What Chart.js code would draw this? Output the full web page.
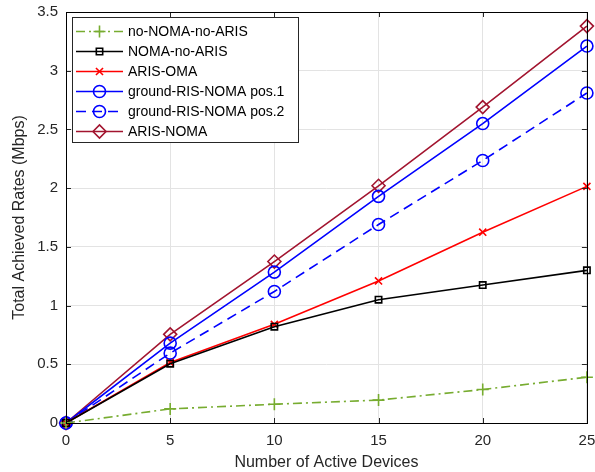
<!DOCTYPE html>
<html>
<head>
<meta charset="utf-8">
<script src="https://cdn.jsdelivr.net/npm/chart.js@4"></script>
<style>
  html, body { margin: 0; padding: 0; background: #fff; }
  #wrap { width: 595px; height: 472px; }
</style>
</head>
<body>
<div id="wrap"><canvas id="chart" width="595" height="472"></canvas></div>
<script>
// valores
const dispositivos = [0, 5, 10, 15, 20, 25];
const noNomaNoAris = [0, 0.12, 0.16, 0.195, 0.285, 0.39];
const nomaNoAris = [0, 0.505, 0.82, 1.05, 1.175, 1.30];
const arisOma = [0, 0.515, 0.84, 1.21, 1.625, 2.015];
const groundPos1 = [0, 0.68, 1.285, 1.93, 2.55, 3.21];
const groundPos2 = [0, 0.595, 1.12, 1.69, 2.235, 2.81];
const arisNoma = [0, 0.755, 1.375, 2.02, 2.69, 3.38];
const ticksX = [0, 5, 10, 15, 20, 25];
const ticksY = [0, 0.5, 1, 1.5, 2, 2.5, 3, 3.5];

const fuente = '"Liberation Sans", Arial, Helvetica, sans-serif';
const colorTexto = '#262626';

function serie(label, valores, color, estilo, extra) {
    return Object.assign({
        label: label,
        data: dispositivos.map((x, i) => ({ x: x, y: valores[i] })),
        borderColor: color,
        backgroundColor: 'transparent',
        pointBorderColor: color,
        pointBackgroundColor: 'transparent',
        borderWidth: 1.6,
        pointBorderWidth: 1.6,
        pointStyle: estilo,
        pointRadius: 5.5,
        pointHoverRadius: 5.5,
        tension: 0,
        fill: false,
        clip: false
    }, extra || {});
}

const datasets = [
    serie('no-NOMA-no-ARIS', noNomaNoAris, '#77ac30', 'cross', { borderDash: [9, 4, 2, 4], pointRadius: 6 }),
    serie('NOMA-no-ARIS', nomaNoAris, '#000000', 'rect', { pointRadius: 4.5 }),
    serie('ARIS-OMA', arisOma, '#ff0000', 'crossRot', { pointRadius: 5 }),
    serie('ground-RIS-NOMA pos.1', groundPos1, '#0000ff', 'circle', { pointRadius: 6 }),
    serie('ground-RIS-NOMA pos.2', groundPos2, '#0000ff', 'circle', { pointRadius: 6, borderDash: [10, 6] }),
    serie('ARIS-NOMA', arisNoma, '#a2142f', 'rectRot', { pointRadius: 6.5 })
];

// Caja, marcas interiores y leyenda estilo MATLAB
const cajaPlugin = {
    id: 'caja',
    afterDatasetsDraw(chart) {
        const ctx = chart.ctx;
        const a = chart.chartArea;
        const sx = chart.scales.x, sy = chart.scales.y;
        ctx.save();
        ctx.strokeStyle = colorTexto;
        ctx.lineWidth = 1;
        ctx.beginPath();
        ticksX.forEach(v => {
            const px = Math.round(sx.getPixelForValue(v)) + 0.5;
            ctx.moveTo(px, a.bottom); ctx.lineTo(px, a.bottom - 5);
            ctx.moveTo(px, a.top); ctx.lineTo(px, a.top + 5);
        });
        ticksY.forEach(v => {
            const py = Math.round(sy.getPixelForValue(v)) + 0.5;
            ctx.moveTo(a.left, py); ctx.lineTo(a.left + 5, py);
            ctx.moveTo(a.right, py); ctx.lineTo(a.right - 5, py);
        });
        ctx.stroke();
        ctx.strokeStyle = '#000';
        ctx.strokeRect(Math.round(a.left) + 0.5, Math.round(a.top) + 0.5,
            Math.round(a.right - a.left), Math.round(a.bottom - a.top));
        ctx.restore();
    },
    afterDraw(chart) {
        const ctx = chart.ctx;
        const bx = 72, by = 17, bw = 226, bh = 125;
        ctx.save();
        ctx.fillStyle = '#fff';
        ctx.fillRect(bx, by, bw, bh);
        ctx.strokeStyle = '#262626';
        ctx.lineWidth = 1;
        ctx.strokeRect(bx + 0.5, by + 0.5, bw, bh);
        ctx.font = '14px ' + fuente;
        ctx.textBaseline = 'middle';
        chart.data.datasets.forEach((d, i) => {
            const y = by + 14.5 + i * 20;
            ctx.strokeStyle = d.borderColor;
            ctx.lineWidth = d.borderWidth;
            ctx.setLineDash(d.borderDash || []);
            ctx.beginPath();
            ctx.moveTo(76, y); ctx.lineTo(123, y);
            ctx.stroke();
            ctx.setLineDash([]);
            ctx.lineWidth = d.pointBorderWidth;
            ctx.fillStyle = 'transparent';
            Chart.helpers.drawPoint(ctx, {
                pointStyle: d.pointStyle,
                radius: d.pointRadius,
                borderWidth: d.pointBorderWidth,
                rotation: 0
            }, 99.5, y);
            ctx.fillStyle = '#000';
            ctx.fillText(d.label, 128, y + 0.5);
        });
        ctx.restore();
    }
};

new Chart(document.getElementById('chart'), {
    type: 'line',
    data: { datasets: datasets },
    options: {
        responsive: false,
        animation: false,
        events: [],
        layout: { padding: { top: 12, right: 8, left: 0, bottom: 0 } },
        plugins: {
            legend: { display: false },
            tooltip: { enabled: false }
        },
        scales: {
            x: {
                type: 'linear',
                min: 0,
                max: 25,
                afterBuildTicks: s => { s.ticks = ticksX.map(v => ({ value: v })); },
                afterFit: s => { s.height = 49; s.paddingRight = 0; s.paddingLeft = 0; },
                grid: { color: '#e3e3e3', drawTicks: false },
                border: { display: false },
                ticks: { color: colorTexto, font: { family: fuente, size: 15 }, padding: 9, maxRotation: 0,
                    callback: v => String(v) },
                title: {
                    display: true,
                    text: 'Number of Active Devices',
                    color: colorTexto,
                    font: { family: fuente, size: 16 },
                    padding: { top: 0, bottom: 0 }
                }
            },
            y: {
                type: 'linear',
                min: 0,
                max: 3.5,
                afterBuildTicks: s => { s.ticks = ticksY.map(v => ({ value: v })); },
                afterFit: s => { s.width = 66; s.paddingTop = 0; s.paddingBottom = 0; },
                grid: { color: '#e3e3e3', drawTicks: false },
                border: { display: false },
                ticks: { color: colorTexto, font: { family: fuente, size: 15 }, padding: 8,
                    callback: v => String(v) },
                title: {
                    display: true,
                    text: 'Total Achieved Rates (Mbps)',
                    color: colorTexto,
                    font: { family: fuente, size: 16 },
                    padding: { top: 10, bottom: 2 }
                }
            }
        }
    },
    plugins: [cajaPlugin]
});
</script>
</body>
</html>
